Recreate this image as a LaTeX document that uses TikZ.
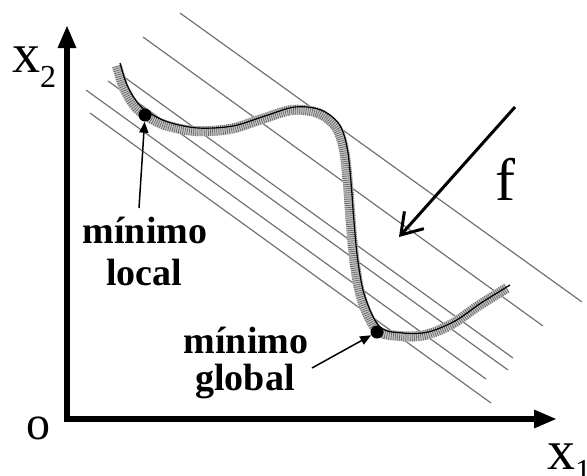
\documentclass[tikz,border=0pt]{standalone}
\usepackage{fontspec}
\setmainfont{Liberation Serif}
\usetikzlibrary{arrows.meta}
\begin{document}
\begin{tikzpicture}[x=1pt,y=-1pt,
  axis/.style={line width=6.5pt, line join=miter, arrows={Triangle[length=23pt,width=17pt]-Triangle[length=23pt,width=17pt]}},
  level/.style={draw=black!55, line width=1.2pt},
  minlabel/.style={font=\fontsize{38}{40}\selectfont\bfseries, inner sep=0pt, anchor=base},
  pointer/.style={line width=1.5pt, arrows={-Triangle[length=11pt,width=9pt]}},
  dot/.style={circle, fill=black, inner sep=0pt, minimum size=13pt},
  bigtext/.style={inner sep=0pt, anchor=base west},
  fpointer/.style={line width=3pt, arrows={-Straight Barb[length=20pt,width=26pt,line width=3pt]}},
  bandpath/.style={insert path={plot[smooth,tension=0.55] coordinates {
    (117,66) (124,88) (134,105) (145,115) (165,125) (195,131) (230,129)
    (262,119) (292,110) (318,113) (336,127) (344,150) (348,185) (351,225)
    (355,265) (362,300) (377,330) (400,336) (425,335) (452,324) (478,306) (507,288)}}}
]
\useasboundingbox (0,0) rectangle (587,475);

% level lines of f
\draw[level] (180,13) -- (582,302);
\draw[level] (143,37) -- (543,326);
\draw[level] (113,69) -- (513,358);
\draw[level] (108,81) -- (508,370);
\draw[level] (86,90) -- (486,379);
\draw[level] (90,113) -- (491,403);

% hatched band (constraint curve)
\draw[line width=10pt, draw=black!22, bandpath];
\draw[line width=10pt, draw=black!60, dash pattern=on 0.7pt off 1.4pt, bandpath];
\draw[line width=1.2pt, draw=black, shift={(3,-3)}, bandpath];

% axes
\coordinate (O) at (67,419);
\coordinate (ytip) at (67,25);
\coordinate (xtip) at (557,419);
\draw[axis] (ytip) -- (O) -- (xtip);

\node[bigtext, font=\fontsize{56}{60}\selectfont] (xtwo) at (12,72) {x\raisebox{-15pt}{\fontsize{32}{34}\selectfont 2}};
\node[bigtext, font=\fontsize{56}{60}\selectfont] (xone) at (547,469) {x\raisebox{-12pt}{\fontsize{32}{34}\selectfont 1}};
\node[bigtext, font=\fontsize{48}{50}\selectfont] (origin) at (26,439) {o};
\node[bigtext, font=\fontsize{60}{64}\selectfont] (flabel) at (495,200) {f};

% minima
\node[dot] (ldot) at (145,115) {};
\node[dot] (gdot) at (377,332) {};

\node[minlabel] (lmin1) at (145,243) {mínimo};
\node[minlabel] (lmin2) at (144,285) {local};
\node[minlabel] (gmin1) at (246,353) {mínimo};
\node[minlabel] (gmin2) at (245,390) {global};

\coordinate (ltail) at (139,208);
\coordinate (gtail) at (312,368);
\draw[pointer] (ltail) -- (ldot);
\draw[pointer] (gtail) -- (gdot);

% direction of f
\coordinate (fstart) at (515,107);
\coordinate (fend) at (399,237);
\draw[fpointer] (fstart) -- (fend);
\end{tikzpicture}
\end{document}
